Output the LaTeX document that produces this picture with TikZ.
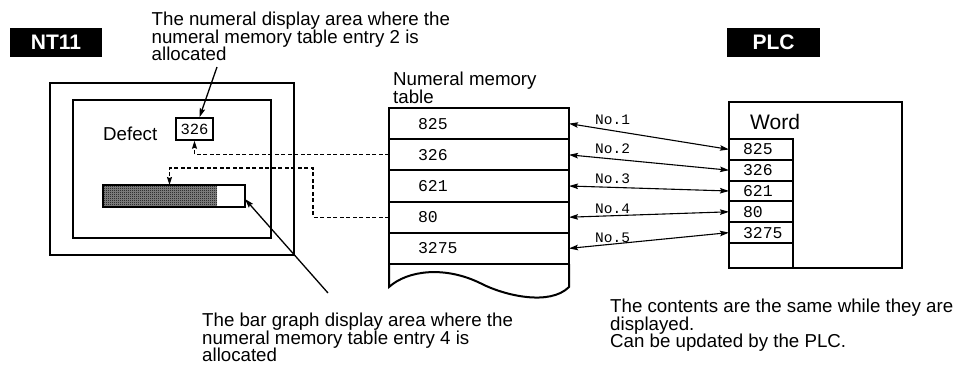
\documentclass[tikz,border=0pt]{standalone}
\usepackage{fontspec}
\setmainfont{Liberation Sans}
\newfontfamily\numfont{Liberation Mono}
\usepackage{tikz}
\usetikzlibrary{
  arrows.meta,
  patterns
}

\pgfdeclarepatternformonly{finecheck}{\pgfqpoint{0pt}{0pt}}{\pgfqpoint{2pt}{2pt}}{\pgfqpoint{2pt}{2pt}}{%
  \pgfpathrectangle{\pgfqpoint{0pt}{0pt}}{\pgfqpoint{1pt}{1pt}}%
  \pgfpathrectangle{\pgfqpoint{1pt}{1pt}}{\pgfqpoint{1pt}{1pt}}%
  \pgfusepath{fill}}

\begin{document}
\begin{tikzpicture}[
  x=10pt, y=-10pt,
  note/.style={font=\fontsize{18.7}{17.5}\selectfont, align=left, anchor=north west, inner sep=0pt},
  tag/.style={fill=black, text=white, font=\fontsize{21}{21}\selectfont\bfseries, minimum width=92pt, minimum height=29pt, inner sep=0pt},
  frame/.style={draw, line width=2.4pt},
  boxline/.style={draw, line width=2pt},
  tabrow/.style={draw, line width=2pt, anchor=north west, outer sep=0pt, minimum width=180pt, minimum height=31.2pt,
    text width=122pt, inner xsep=29pt, inner ysep=0pt, align=left, font=\numfont\fontsize{16.5}{16.5}\selectfont},
  wrdrow/.style={draw, line width=2pt, anchor=north west, outer sep=0pt, minimum width=64pt, minimum height=20.8pt,
    text width=36pt, inner xsep=14pt, inner ysep=0pt, align=left, font=\numfont\fontsize{16.5}{16.5}\selectfont},
  valbox/.style={draw, line width=1.5pt, minimum width=37pt, minimum height=22pt, inner sep=0pt, font=\numfont\fontsize{15.5}{15.5}\selectfont},
  notag/.style={anchor=west, inner sep=0pt, font=\numfont\fontsize{14.5}{14.5}\selectfont},
  link/.style={line width=1.1pt, {Stealth[length=9pt,width=5.5pt,inset=1.5pt]}-{Stealth[length=9pt,width=5.5pt,inset=1.5pt]}},
  pointer/.style={line width=1.3pt, -{Stealth[length=9pt,width=5.5pt,inset=1.5pt]}},
  dashline/.style={line width=1.1pt, dash pattern=on 4pt off 2.5pt, -{Stealth[length=8pt,width=5pt,inset=1pt]}}
]
\useasboundingbox (0,0) rectangle (97.2,36.7);

% ============ LEFT : NT11 SCREEN ============
\node[tag] (nt) at (5.6,4.25) {NT11};
\draw[frame] (5.0,8.3) rectangle (29.4,25.5);
\draw[frame] (7.3,10.0) rectangle (27.1,23.8);
\node[note] (defect) at (10.3,12.7) {Defect};
\node[valbox] (val) at (19.45,12.9) {326};
\fill[black!45] (10.3,18.5) rectangle (21.7,20.7);
\fill[pattern=finecheck] (10.3,18.5) rectangle (21.7,20.7);
\node[boxline, anchor=north west, outer sep=0pt, minimum width=142pt, minimum height=22pt] (bar) at (10.3,18.5) {};

\node[note] (numnote) at (15.15,1.2)
  {The numeral display area where the\\numeral memory table entry 2 is\\allocated};
\coordinate (numtip) at (21.7,6.7);
\draw[pointer] (numtip) -- ([xshift=5pt]val.north);

\node[note] (barnote) at (20.2,31.3)
  {The bar graph display area where the\\numeral memory table entry 4 is\\allocated};
\coordinate (bartip) at (32.8,29.3);
\draw[pointer] (bartip) -- ([yshift=-3pt]bar.east);

% ============ MIDDLE : NUMERAL MEMORY TABLE ============
\node[note] (tabtitle) at (39.3,7.2) {Numeral memory\\table};
\node[tabrow] (tab1) at (38.9,10.80) {825};
\node[tabrow] (tab2) at (38.9,13.92) {326};
\node[tabrow] (tab3) at (38.9,17.04) {621};
\node[tabrow] (tab4) at (38.9,20.16) {80};
\node[tabrow] (tab5) at (38.9,23.28) {3275};
\draw[boxline] (tab5.south west) -- (38.9,28.7)
  .. controls (40.8,27.0) and (44.5,26.6) .. (48.0,28.3)
  .. controls (50.5,29.6) and (55.0,30.6) .. (56.9,28.7) -- (tab5.south east);

% dashed allocation lines
\draw[dashline] (tab2.west) -| (val.south);
\coordinate (kink) at (31.3,16.8);
\draw[dashline] (tab4.west) -| (kink) -| ([xshift=-4.5pt]bar.north);

% ============ RIGHT : PLC WORDS ============
\node[tag, minimum width=93pt] (plc) at (77.35,4.25) {PLC};
\node[boxline, anchor=north west, outer sep=0pt, minimum width=173pt, minimum height=166pt] (wordbox) at (72.9,10.2) {};
\node[note, font=\fontsize{21}{21}\selectfont] (word) at (75.0,11.4) {Word};
\node[wrdrow] (wrd1) at (72.9,13.90) {825};
\node[wrdrow] (wrd2) at (72.9,15.98) {326};
\node[wrdrow] (wrd3) at (72.9,18.06) {621};
\node[wrdrow] (wrd4) at (72.9,20.14) {80};
\node[wrdrow] (wrd5) at (72.9,22.22) {3275};
\draw[boxline] (wrd5.south east) -- (wrd5.south east |- wordbox.south);

\draw[link] (tab1.east) -- (wrd1.west);
\draw[link] (tab2.east) -- (wrd2.west);
\draw[link] (tab3.east) -- (wrd3.west);
\draw[link] (tab4.east) -- (wrd4.west);
\draw[link] (tab5.east) -- (wrd5.west);
\node[notag] (no1) at (59.5,11.95) {No.1};
\node[notag] (no2) at (59.5,14.90) {No.2};
\node[notag] (no3) at (59.5,17.85) {No.3};
\node[notag] (no4) at (59.5,20.85) {No.4};
\node[notag] (no5) at (59.5,23.80) {No.5};

\node[note] (samenote) at (61.0,29.9)
  {The contents are the same while they are\\displayed.\\Can be updated by the PLC.};

\end{tikzpicture}
\end{document}
